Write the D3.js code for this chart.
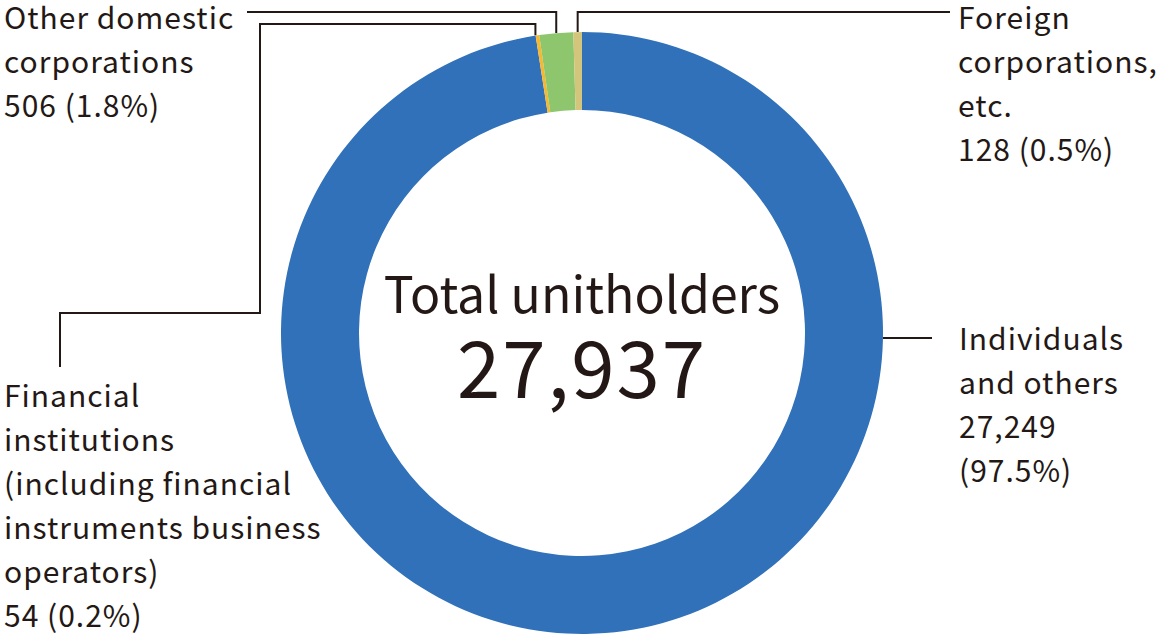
<!DOCTYPE html>
<html>
<head>
<meta charset="utf-8">
<script src="https://cdn.jsdelivr.net/npm/d3@7"></script>
<style>
  html, body { margin: 0; padding: 0; background: #fff; }
  svg { display: block; }
  text { font-family: "Noto Sans CJK JP", "Noto Sans", sans-serif; fill: #231815; }
</style>
</head>
<body>
<svg id="chart" width="1160" height="640"></svg>
<script>
// unitholder breakdown, clockwise from 12 o'clock
const categories = ["Individuals and others", "Financial institutions", "Other domestic corporations", "Foreign corporations, etc."];
const values = [27249, 54, 506, 128];
const percents = ["97.5%", "0.2%", "1.8%", "0.5%"];
const colors = ["#3071b9", "#f6b731", "#8dc66c", "#d4c57c"];
const totalLabel = "Total unitholders";
const totalValue = "27,937";

// label lines as printed
const labelLines = [
    ["Individuals", "and others", "27,249", "(97.5%)"],
    ["Financial", "institutions", "(including financial", "instruments business", "operators)", "54 (0.2%)"],
    ["Other domestic", "corporations", "506 (1.8%)"],
    ["Foreign", "corporations,", "etc.", "128 (0.5%)"]
];

const LAYOUT = {
    cx: 582, cy: 333,
    outer: 301, inner: 223,
    lineHeight: 44,
    fontSize: 30
};

const svg = d3.select("#chart");
const data = categories.map((c, i) => ({ name: c, value: values[i], pct: percents[i], color: colors[i], lines: labelLines[i] }));

const pie = d3.pie().sort(null).value(d => d.value);
const arc = d3.arc().innerRadius(LAYOUT.inner).outerRadius(LAYOUT.outer);
const arcs = pie(data);

const g = svg.append("g").attr("transform", `translate(${LAYOUT.cx},${LAYOUT.cy})`);

g.selectAll("path.slice")
    .data(arcs)
    .join("path")
    .attr("class", "slice")
    .attr("d", arc)
    .attr("fill", d => d.data.color);

// point on outer edge at slice middle
function edgePoint(a) {
    const ang = (a.startAngle + a.endAngle) / 2;
    return [LAYOUT.cx + LAYOUT.outer * Math.sin(ang), LAYOUT.cy - LAYOUT.outer * Math.cos(ang)];
}

// leader routes: elbow positions only, start comes from the arc
const leaders = [
    { i: 0, route: p => [[p[0], p[1]], [932, p[1]]] },
    { i: 1, route: p => [[p[0] - 2, p[1]], [p[0] - 2, 24], [260, 24], [260, 313], [60, 313], [60, 367]] },
    { i: 2, route: p => [[p[0], p[1]], [p[0], 12], [247, 12]] },
    { i: 3, route: p => [[p[0], p[1]], [p[0], 12], [950, 12]] }
];

const lineGen = d3.line();
svg.selectAll("path.leader")
    .data(leaders)
    .join("path")
    .attr("class", "leader")
    .attr("fill", "none")
    .attr("stroke", "#231815")
    .attr("stroke-width", 2)
    .attr("d", l => {
        const a = arcs[l.i];
        let p = edgePoint(a);
        if (l.i === 0) p = [LAYOUT.cx + LAYOUT.outer, 338];
        return lineGen(l.route(p));
    });

// category labels
const labelPos = [
    { x: 959, y: 350 },
    { x: 4, y: 407 },
    { x: 4, y: 29 },
    { x: 958, y: 29 }
];

svg.selectAll("text.cat-label")
    .data(data)
    .join("text")
    .attr("class", "cat-label")
    .attr("font-size", LAYOUT.fontSize)
    .attr("letter-spacing", 1)
    .attr("x", (d, i) => labelPos[i].x)
    .attr("y", (d, i) => labelPos[i].y)
    .each(function(d, i) {
        d3.select(this).selectAll("tspan")
            .data(d.lines)
            .join("tspan")
            .attr("x", labelPos[i].x)
            .attr("y", (t, k) => labelPos[i].y + k * LAYOUT.lineHeight)
            .text(t => t);
    });

// centre total
g.append("text")
    .attr("text-anchor", "middle")
    .attr("y", -20)
    .attr("font-size", 50)
    .text(totalLabel);

g.append("text")
    .attr("text-anchor", "middle")
    .attr("y", 65)
    .attr("font-size", 78)
    .attr("letter-spacing", 2)
    .text(totalValue);
</script>
</body>
</html>
